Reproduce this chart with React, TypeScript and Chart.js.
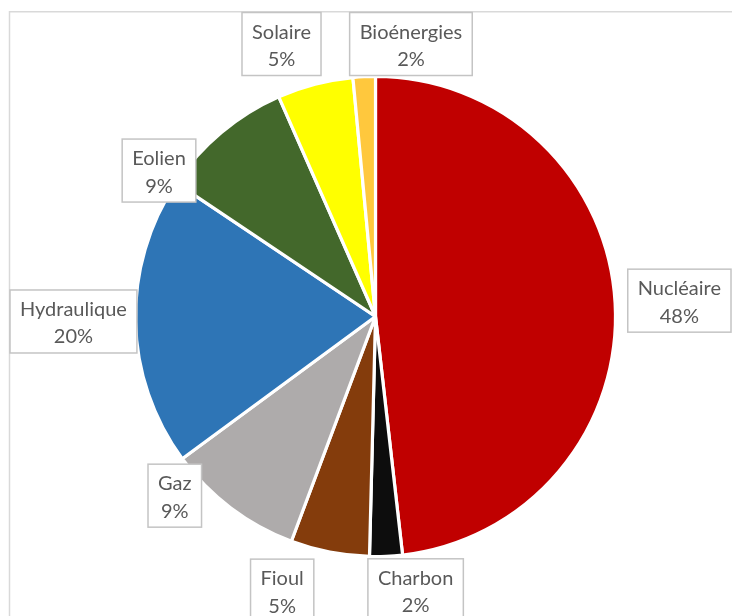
import React, { useEffect, useRef } from "react";
import { Chart, registerables } from "chart.js";

Chart.register(...registerables);

const LABELS = ["Nucléaire", "Charbon", "Fioul", "Gaz", "Hydraulique", "Eolien", "Solaire", "Bioénergies"];
// shares in % (labels show them rounded)
const VALUES = [48.2, 2.2, 5.3, 9.2, 19.5, 9.0, 5.1, 1.5];
const COLORS = ["#C00000", "#0D0D0D", "#843C0C", "#AEABAB", "#2E75B6", "#43682B", "#FFFF00", "#FFC83D"];

// label layout tweaks (px) applied after the automatic outside placement
const LABEL_NUDGE: [number, number][] = [
  [-1, 1.5],
  [27.5, -13],
  [-38, -11],
  [-23, -56],
  [0, -2],
  [-23, 85],
  [-20, 0],
  [49, 0],
];

const W = 732;
const H = 616;
const FRAME_L = 10;
const FRAME_T = 12.5;
const FONT = '20px Lato, "Open Sans", sans-serif';
const PAD_X = 10;
const BOX_H = 63;
const GAP = 15;

const frameAndLabels = {
  id: "frameAndLabels",
  beforeDraw(chart: any) {
    const ctx = chart.ctx;
    ctx.save();
    ctx.fillStyle = "#FFFFFF";
    ctx.fillRect(0, 0, chart.width, chart.height);
    ctx.strokeStyle = "#D9D9D9";
    ctx.lineWidth = 1.5;
    ctx.beginPath();
    ctx.moveTo(9.5, chart.height + 2);
    ctx.lineTo(9.5, 11.75);
    ctx.lineTo(chart.width + 2, 11.75);
    ctx.stroke();
    ctx.restore();
  },
  afterDatasetsDraw(chart: any) {
    const ctx = chart.ctx;
    const meta = chart.getDatasetMeta(0);
    ctx.save();
    ctx.font = FONT;
    meta.data.forEach((arc: any, i: number) => {
      const p = arc.getProps(["x", "y", "startAngle", "endAngle", "outerRadius"], true);
      const mid = (p.startAngle + p.endAngle) / 2;
      const lines = [LABELS[i], `${Math.round(VALUES[i] + 1e-9)}%`];
      const tw = Math.max(...lines.map((l) => ctx.measureText(l).width));
      const w = tw + 2 * PAD_X;
      const h = BOX_H;
      const c = Math.cos(mid);
      const s = Math.sin(mid);
      const ext = (w / 2) * Math.abs(c) + (h / 2) * Math.abs(s);
      const d = p.outerRadius - 1.5 + GAP + ext;
      let cx = p.x + d * c;
      let cy = p.y + d * s;
      cx = Math.min(Math.max(cx, FRAME_L + w / 2), chart.width - w / 2);
      cy = Math.max(cy, FRAME_T + h / 2);
      cx += LABEL_NUDGE[i][0];
      cy += LABEL_NUDGE[i][1];
      const bx = cx - w / 2;
      const by = cy - h / 2;
      ctx.fillStyle = "#FFFFFF";
      ctx.fillRect(bx, by, w, h);
      ctx.strokeStyle = "#C4C4C4";
      ctx.lineWidth = 1.5;
      ctx.strokeRect(bx, by, w, h);
      ctx.fillStyle = "#595959";
      ctx.textAlign = "center";
      ctx.textBaseline = "alphabetic";
      ctx.fillText(lines[0], cx, cy - 5.5);
      ctx.fillText(lines[1], cx, cy + 22);
    });
    ctx.restore();
  },
};

export default function App() {
  const ref = useRef<HTMLCanvasElement>(null);
  useEffect(() => {
    if (!ref.current) return;
    const chart = new Chart(ref.current, {
      type: "pie",
      data: {
        labels: LABELS,
        datasets: [
          {
            data: VALUES,
            backgroundColor: COLORS,
            borderColor: "#FFFFFF",
            borderWidth: 3.2,
          },
        ],
      },
      options: {
        responsive: false,
        animation: false,
        radius: 240,
        layout: { padding: { left: 19, right: 0, top: 17, bottom: 0 } },
        plugins: {
          legend: { display: false },
          tooltip: { enabled: false },
        },
      } as any,
      plugins: [frameAndLabels],
    });
    return () => chart.destroy();
  }, []);
  return (
    <canvas
      ref={ref}
      width={W}
      height={H}
      style={{ position: "absolute", left: 0, top: 0, display: "block", width: W, height: H }}
    />
  );
}
